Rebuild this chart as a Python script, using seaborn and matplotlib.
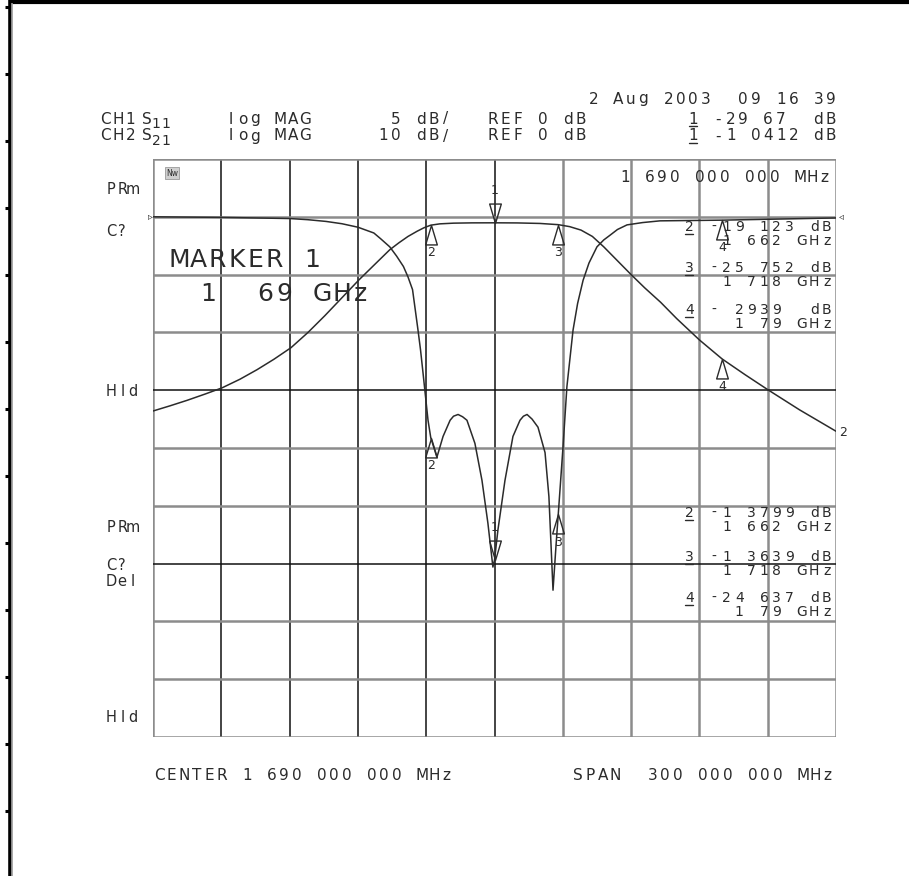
import matplotlib
matplotlib.use("Agg")
import matplotlib.pyplot as plt
import seaborn as sns
from matplotlib.path import Path

# ---- data ----
# CH2 S21 (10 dB/div, REF 0 dB)
s21_freq = [1540, 1547.5, 1555, 1563, 1570.3, 1578.2, 1585.7, 1593.1, 1600.6, 1608.1, 1615.5,
            1623, 1630.5, 1637.5, 1644, 1648, 1652, 1656, 1659, 1662, 1666, 1672, 1680, 1690,
            1700, 1710, 1718, 1723, 1728, 1733, 1738, 1744, 1750, 1756, 1763, 1770, 1780,
            1790, 1800, 1810, 1824, 1840]
s21_db = [-33.6, -32.7, -31.75, -30.65, -29.6, -28.1, -26.45, -24.65, -22.65, -20.0, -17.1,
          -14.0, -10.9, -8.2, -5.7, -4.5, -3.4, -2.5, -1.9, -1.45, -1.22, -1.1, -1.05, -1.04,
          -1.06, -1.15, -1.36, -1.7, -2.3, -3.4, -5.2, -7.6, -10.0, -12.3, -14.8, -17.6,
          -21.3, -24.6, -27.3, -29.9, -33.4, -37.1]

# CH1 S11 (5 dB/div, REF 0 dB)
s11_freq = [1540, 1570, 1600, 1608, 1616, 1623, 1630, 1637, 1640, 1644, 1647, 1650, 1652,
            1654, 1656.4, 1657.5, 1658.6, 1660.8, 1662, 1664.7, 1667.4, 1670.5, 1672, 1674,
            1676, 1677.9, 1681.4, 1684.5, 1687.1, 1689.3, 1690, 1691.5, 1694.6, 1698.1,
            1701.2, 1702.7, 1704.3, 1706.5, 1709.1, 1712.2, 1713.9, 1715.7, 1717, 1718,
            1720.1, 1721.8, 1724.5, 1726.5, 1728.9, 1731.5, 1735, 1738, 1740.7, 1744,
            1748.2, 1755, 1762.7, 1790, 1840]
s11_db = [0.0, -0.05, -0.15, -0.25, -0.4, -0.6, -0.9, -1.4, -1.9, -2.6, -3.4, -4.3, -5.2,
          -6.3, -9.8, -11.5, -13.5, -17.6, -19.1, -20.8, -19.0, -17.6, -17.25, -17.1,
          -17.3, -17.6, -19.6, -22.8, -26.5, -30.3, -29.7, -27.1, -22.8, -19.0,
          -17.6, -17.25, -17.1, -17.5, -18.2, -20.4, -24.2, -32.3, -28.5, -25.75,
          -19.9, -14.7, -9.8, -7.5, -5.5, -4.0, -2.6, -2.0, -1.6, -1.1,
          -0.7, -0.5, -0.35, -0.29, -0.1]

# markers
marker_ids = ["1", "2", "3", "4"]
marker_freq = [1690, 1662, 1718, 1790]
marker_s11 = [-29.67, -19.123, -25.752, -0.2939]
marker_s21 = [-1.0412, -1.3799, -1.3639, -24.637]

# marker readouts on the right
ch1_rows = [("2 -19 123 dB", "1 662 GHz"), ("3 -25 752 dB", "1 718 GHz"), ("4 - 2939  dB", "1 79 GHz")]
ch2_rows = [("2 -1 3799 dB", "1 662 GHz"), ("3 -1 3639 dB", "1 718 GHz"), ("4 -24 637 dB", "1 79 GHz")]

ink = "#2b2b2b"
sns.set_style("white")
plt.rcParams["font.family"] = ["DejaVu Sans"]

fig = plt.figure(figsize=(9.09, 8.76), dpi=100)
W, H = 909, 876
gx0, gx1, gy0, gy1 = 153, 836, 159, 737
ax = fig.add_axes([gx0 / W, 1 - gy1 / H, (gx1 - gx0) / W, (gy1 - gy0) / H])
ax.set_xlim(1540, 1840)
ax.set_ylim(-90, 10)
ax2 = ax.twinx()
ax2.set_ylim(-45, 5)
for a in (ax, ax2):
    a.set_xticks([])
    a.set_yticks([])
    for s in a.spines.values():
        s.set_visible(False)
    a.patch.set_alpha(0)

# graticule
for i in range(11):
    f = 1540 + 30 * i
    dark = 1 <= i <= 5
    ax.axvline(f, color="#111111" if dark else "#8c8c8c", lw=1.1 if dark else 1.8, zorder=1)
for j in range(11):
    v = 10 - 10 * j
    dark = j in (4, 7)
    ax.axhline(v, color="#111111" if dark else "#8c8c8c", lw=1.1 if dark else 1.8, zorder=1)

# traces
sns.lineplot(x=s21_freq, y=s21_db, ax=ax, color=ink, lw=1.1, zorder=3)
sns.lineplot(x=s11_freq, y=s11_db, ax=ax2, color=ink, lw=1.1, zorder=3)

# marker glyphs: apex sits on the trace
up = Path([(0, 0), (-0.3, -1), (0.3, -1), (0, 0)],
          [Path.MOVETO, Path.LINETO, Path.LINETO, Path.CLOSEPOLY])
down = Path([(0, 0), (-0.3, 1), (0.3, 1), (0, 0)],
            [Path.MOVETO, Path.LINETO, Path.LINETO, Path.CLOSEPOLY])


def put_markers(a, vals):
    for mid, f, v in zip(marker_ids, marker_freq, vals):
        if mid == "1":
            a.plot(f, v, marker=down, ms=28, mfc="none", mec=ink, mew=1.0, zorder=4)
            a.annotate(mid, (f, v), xytext=(0, 23), textcoords="offset points",
                       ha="center", va="center", fontsize=9, color=ink)
        else:
            a.plot(f, v, marker=up, ms=28, mfc="none", mec=ink, mew=1.0, zorder=4)
            a.annotate(mid, (f, v), xytext=(0, -20), textcoords="offset points",
                       ha="center", va="center", fontsize=9, color=ink)


put_markers(ax, marker_s21)
put_markers(ax2, marker_s11)

# overlay in pixel units for the printed annotations
ov = fig.add_axes([0, 0, 1, 1])
ov.set_xlim(0, W)
ov.set_ylim(H, 0)
ov.axis("off")
ov.patch.set_alpha(0)

P = 12.5


def mono(x, y, s, size=11, pitch=P, right=False, under=None):
    if right:
        x = x - len(s) * pitch
    for i, ch in enumerate(s):
        cx = x + i * pitch + pitch / 2
        if ch != " ":
            ov.text(cx, y, ch, ha="center", va="center", fontsize=size, color=ink)
        if under is not None and i == under:
            ov.plot([cx - 4, cx + 4], [y + 7, y + 7], color=ink, lw=1)


# header
mono(837, 99, "2 Aug 2003  09 16 39", right=True)
mono(99, 119, "CH1")
mono(141, 119, "S")
mono(151, 124, "11", size=10, pitch=10)
mono(99, 136, "CH2")
mono(141, 136, "S")
mono(151, 141, "21", size=10, pitch=10)
mono(224, 119, "log MAG")
mono(224, 136, "log MAG")
mono(452, 119, "5 dB/", right=True)
mono(452, 136, "10 dB/", right=True)
mono(487, 119, "REF 0 dB")
mono(487, 136, "REF 0 dB")
mono(837, 119, "1 -29 67  dB", right=True, under=0)
mono(837, 136, "1 -1 0412 dB", right=True, under=0)

# left softkey status
for lbl, y in [("PRm", 190), ("C?", 232), ("Hld", 391), ("PRm", 527),
               ("C?", 565), ("Del", 582), ("Hld", 718)]:
    mono(106, y, lbl, size=10.5, pitch=10.8)

# inside the graticule
ov.text(172, 173, "Nw", ha="center", va="center", fontsize=5.5, color=ink,
        bbox=dict(boxstyle="square,pad=0.15", fc="#cfcfcf", ec="#9a9a9a", lw=0.6))
mono(831, 178, "1 690 000 000 MHz", right=True)
mono(170, 260, "MARKER", size=18, pitch=19)
mono(303, 260, "1", size=18, pitch=19)
mono(199, 294, "1  69 GHz", size=18, pitch=19)

for k, (a, b) in enumerate(ch1_rows):
    y = [227, 268, 310][k]
    mono(833, y, a, size=10, right=True, under=0)
    mono(833, y + 14, b, size=10, right=True)
for k, (a, b) in enumerate(ch2_rows):
    y = [513, 557, 598][k]
    mono(833, y, a, size=10, right=True, under=0)
    mono(833, y + 14, b, size=10, right=True)

# trace end tags
ov.text(150, 216, "\u25b9", ha="center", va="center", fontsize=7, color=ink)
ov.text(841, 216, "\u25c3", ha="center", va="center", fontsize=7, color=ink)
ov.text(843, 433, "2", ha="center", va="center", fontsize=9, color=ink)

# footer
mono(153, 776, "CENTER 1 690 000 000 MHz")
mono(834, 776, "SPAN  300 000 000 MHz", right=True)

# page frame
ov.plot([9, W], [1.5, 1.5], color="black", lw=3, solid_capstyle="butt")
ov.plot([9.5, 9.5], [0, H], color="black", lw=2.6, solid_capstyle="butt")
ov.plot([12, 12], [3, H], color="#9a9a9a", lw=1.2, solid_capstyle="butt")
for k in range(13):
    ty = 7 + 67 * k
    ov.plot([5, 9], [ty, ty], color="black", lw=2.2, solid_capstyle="butt")

fig.savefig("out.png", dpi=100)
